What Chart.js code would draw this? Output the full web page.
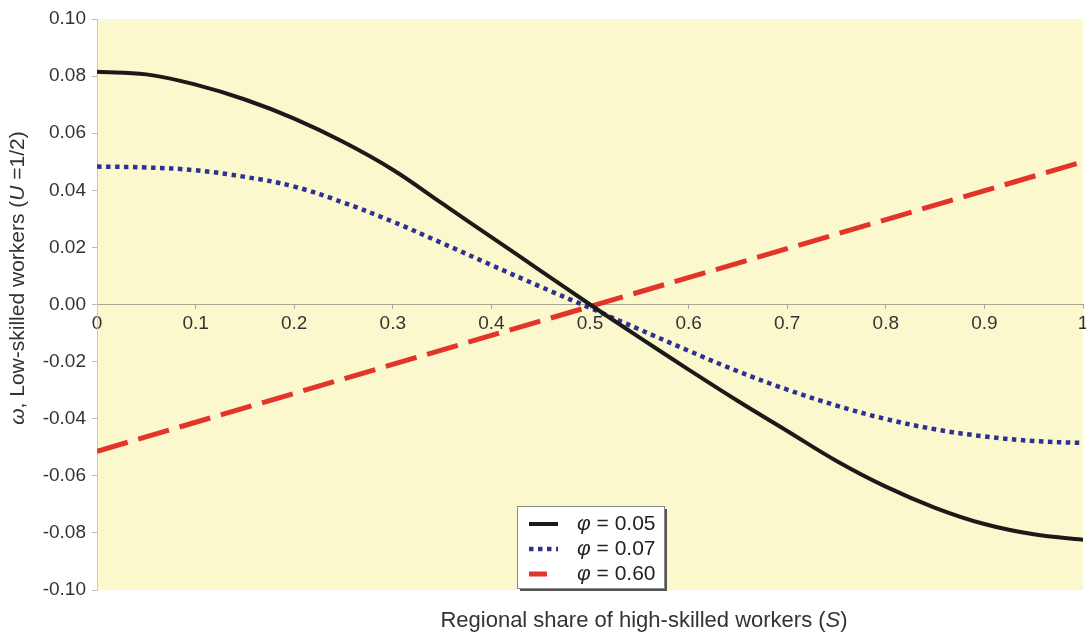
<!DOCTYPE html>
<html>
<head>
<meta charset="utf-8">
<script src="https://cdn.jsdelivr.net/npm/chart.js@4/dist/chart.umd.min.js"></script>
<style>
  html, body { margin: 0; padding: 0; background: #fff; }
  #wrap { width: 1086px; height: 636px; }
</style>
</head>
<body>
<div id="wrap"><canvas id="chart" width="1086" height="636"></canvas></div>
<script>
// regional share S at steps of 0.05
const shares = [0, 0.05, 0.1, 0.15, 0.2, 0.25, 0.3, 0.35, 0.4, 0.45, 0.5,
                0.55, 0.6, 0.65, 0.7, 0.75, 0.8, 0.85, 0.9, 0.95, 1];
const phi005 = [0.0815, 0.0806, 0.0770, 0.0718, 0.0651, 0.0569, 0.0472, 0.0354, 0.0236, 0.0118, 0.0000,
                -0.0115, -0.0228, -0.0338, -0.0443, -0.0548, -0.0638, -0.0712, -0.0769, -0.0805, -0.0824];
const phi007 = [0.0483, 0.0480, 0.0470, 0.0447, 0.0413, 0.0357, 0.0290, 0.0215, 0.0138, 0.0062, -0.0012,
                -0.0087, -0.0162, -0.0234, -0.0298, -0.0354, -0.0401, -0.0437, -0.0462, -0.0478, -0.0485];
// phi = 0.60 is a straight line
const lineShares = [0, 1];
const phi060 = [-0.0514, 0.0500];

const seriesLabels = ['0.05', '0.07', '0.60'];
const xTicks = [0, 0.1, 0.2, 0.3, 0.4, 0.5, 0.6, 0.7, 0.8, 0.9, 1];
const yTicks = [-0.10, -0.08, -0.06, -0.04, -0.02, 0, 0.02, 0.04, 0.06, 0.08, 0.10];

const FONT = '"Liberation Sans", Arial, sans-serif';

function pts(xs, ys) {
    return xs.map((x, i) => ({ x: x, y: ys[i] }));
}

// draws text made of parts, some in italic, centred on x
function drawParts(ctx, parts, x, y, size) {
    let total = 0;
    parts.forEach(p => {
        ctx.font = (p.it ? 'italic ' : '') + size + 'px ' + FONT;
        p.w = ctx.measureText(p.t).width;
        total += p.w;
    });
    let cx = x - total / 2;
    parts.forEach(p => {
        ctx.font = (p.it ? 'italic ' : '') + size + 'px ' + FONT;
        ctx.fillText(p.t, cx, y);
        cx += p.w;
    });
}

const bgPlugin = {
    id: 'bg',
    beforeDraw(chart) {
        const { ctx, chartArea: a } = chart;
        ctx.save();
        ctx.fillStyle = '#fcf8cd';
        ctx.fillRect(a.left, a.top, a.right - a.left, a.bottom - a.top);
        ctx.restore();
    }
};

const titlesPlugin = {
    id: 'titles',
    afterDraw(chart) {
        const ctx = chart.ctx;
        ctx.save();
        ctx.fillStyle = '#333';
        ctx.textBaseline = 'middle';
        drawParts(ctx, [
            { t: 'Regional share of high-skilled workers (' },
            { t: 'S', it: true },
            { t: ')' }
        ], 644, 621, 22);

        ctx.translate(18, 278);
        ctx.rotate(-Math.PI / 2);
        drawParts(ctx, [
            { t: 'ω', it: true },
            { t: ', Low-skilled workers (' },
            { t: 'U', it: true },
            { t: ' =1/2)' }
        ], 0, 0, 21);
        ctx.restore();
    }
};

const legendPlugin = {
    id: 'boxLegend',
    afterDraw(chart) {
        const ctx = chart.ctx;
        const x = 517, y = 506, w = 147, h = 82;
        ctx.save();
        ctx.fillStyle = '#555';
        ctx.fillRect(x + 3, y + 3, w, h);
        ctx.fillStyle = '#fff';
        ctx.fillRect(x, y, w, h);
        ctx.strokeStyle = '#888';
        ctx.lineWidth = 1;
        ctx.strokeRect(x + 0.5, y + 0.5, w, h);
        chart.data.datasets.forEach((ds, i) => {
            const ry = y + 18 + i * 25;
            ctx.strokeStyle = ds.borderColor;
            ctx.lineWidth = ds.borderWidth;
            ctx.setLineDash(ds.borderDash ? ds.borderDash.map(d => Math.min(d, 18)) : []);
            ctx.beginPath();
            ctx.moveTo(x + 12, ry);
            ctx.lineTo(x + 41, ry);
            ctx.stroke();
            ctx.setLineDash([]);
            ctx.fillStyle = '#222';
            ctx.textBaseline = 'middle';
            ctx.font = 'italic 21px ' + FONT;
            ctx.fillText('φ', x + 60, ry);
            const pw = ctx.measureText('φ').width;
            ctx.font = '21px ' + FONT;
            ctx.fillText(' = ' + seriesLabels[i], x + 60 + pw, ry);
        });
        ctx.restore();
    }
};

new Chart(document.getElementById('chart'), {
    type: 'line',
    data: {
        datasets: [
            {
                label: 'φ = ' + seriesLabels[0],
                data: pts(shares, phi005),
                borderColor: '#1c1a18',
                borderWidth: 4,
                pointRadius: 0,
                tension: 0.4
            },
            {
                label: 'φ = ' + seriesLabels[1],
                data: pts(shares, phi007),
                borderColor: '#2e3192',
                borderWidth: 4.5,
                borderDash: [4.5, 4.5],
                borderCapStyle: 'butt',
                pointRadius: 0,
                tension: 0.4
            },
            {
                label: 'φ = ' + seriesLabels[2],
                data: pts(lineShares, phi060),
                borderColor: '#e3342a',
                borderWidth: 5,
                borderDash: [32, 11],
                borderCapStyle: 'butt',
                pointRadius: 0
            }
        ]
    },
    options: {
        responsive: false,
        animation: false,
        layout: { padding: { left: 0, right: 3, top: 19, bottom: 46 } },
        plugins: {
            legend: { display: false },
            tooltip: { enabled: false }
        },
        scales: {
            x: {
                type: 'linear',
                min: 0,
                max: 1,
                position: { y: 0 },
                afterBuildTicks(scale) {
                    scale.ticks = xTicks.map(v => ({ value: v }));
                },
                afterFit(scale) {
                    scale.paddingLeft = 0;
                    scale.paddingRight = 0;
                },
                ticks: {
                    color: '#333',
                    font: { family: FONT, size: 19 },
                    padding: 4,
                    maxRotation: 0,
                    autoSkip: false,
                    callback: v => String(v)
                },
                grid: {
                    drawOnChartArea: false,
                    tickLength: 4,
                    color: '#aaa'
                },
                border: { color: '#a9a690', width: 1 }
            },
            y: {
                min: -0.1,
                max: 0.1,
                afterBuildTicks(scale) {
                    scale.ticks = yTicks.map(v => ({ value: v }));
                },
                afterFit(scale) {
                    scale.width = 97;
                },
                ticks: {
                    color: '#333',
                    font: { family: FONT, size: 19 },
                    padding: 6,
                    callback: v => v.toFixed(2)
                },
                grid: {
                    drawOnChartArea: false,
                    tickLength: 5,
                    color: '#bbb'
                },
                border: { color: '#c8c8c8', width: 1 }
            }
        }
    },
    plugins: [bgPlugin, titlesPlugin, legendPlugin]
});
</script>
</body>
</html>
